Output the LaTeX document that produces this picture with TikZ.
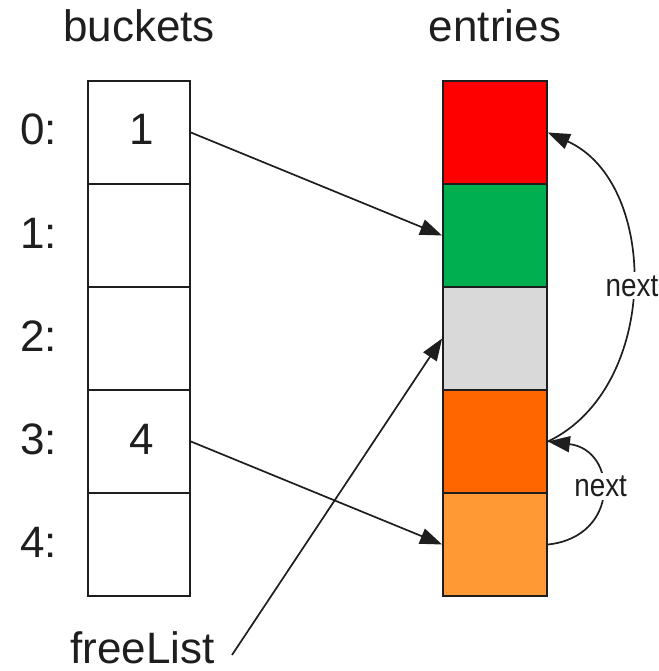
\documentclass[tikz,border=0pt]{standalone}
\usepackage{fontspec}
\setmainfont{Liberation Sans}
\usepackage{graphicx}
\usetikzlibrary{arrows.meta,calc}

\definecolor{ink}{RGB}{30,30,30}
\definecolor{cellred}{RGB}{255,0,0}
\definecolor{cellgreen}{RGB}{0,176,80}
\definecolor{cellgray}{RGB}{217,217,217}
\definecolor{cellorange}{RGB}{255,102,0}
\definecolor{celllight}{RGB}{255,153,51}

\begin{document}
\begin{tikzpicture}[x=1pt,y=-1pt,
  bcell/.style={draw=ink, line width=1.8pt, minimum width=102pt, minimum height=103pt,
                inner sep=0pt, font=\fontsize{44}{50}\selectfont, text=ink},
  ecell/.style={bcell, minimum width=104pt},
  label/.style={font=\fontsize{44}{50}\selectfont, text=ink, inner sep=0pt},
  link/.style={draw=ink, line width=1.7pt, -{Triangle[length=22pt,width=16pt]}},
  nextlbl/.style={fill=white, inner sep=3pt, font=\fontsize{32}{36}\selectfont, text=ink}]

  \useasboundingbox (0,0) rectangle (658,671);

  % column headings
  \node[label, anchor=base] (hbuckets) at (139,42) {buckets};
  \node[label, anchor=base] (hentries) at (495,42) {entries};

  % bucket array
  \node[bcell] (b0) at (139,132.5) {};
  \node[bcell] (b1) at (139,235.5) {};
  \node[bcell] (b2) at (139,338.5) {};
  \node[bcell] (b3) at (139,441.5) {};
  \node[bcell] (b4) at (139,544.5) {};

  % stored entry indices
  \node[label, anchor=base] (v0) at (142,145) {1};
  \node[label, anchor=base] (v3) at (142,454) {4};

  % row indices
  \foreach \i in {0,...,4}
    \node[label, anchor=base] (idx\i) at (38.5,145+103*\i) {\i:};

  % entry array
  \node[ecell, fill=cellred]    (e0) at (495,132.5) {};
  \node[ecell, fill=cellgreen]  (e1) at (495,235.5) {};
  \node[ecell, fill=cellgray]   (e2) at (495,338.5) {};
  \node[ecell, fill=cellorange] (e3) at (495,441.5) {};
  \node[ecell, fill=celllight]  (e4) at (495,544.5) {};

  % free list head
  \node[label, anchor=base] (free) at (142.5,663) {freeList};
  \coordinate (fstart) at (232,655);

  % bucket -> entry links
  \draw[link] (b0.east) -- (e1.west);
  \draw[link] (b3.east) -- (e4.west);
  \draw[link] (fstart) -- (e2.west);

  % chain links between entries
  \draw[link] (e3.east) .. controls (660,388) and (660,183) ..
     node[nextlbl, pos=0.5] {\scalebox{0.87}[1]{next}} (e0.east);
  \draw[link] (e4.east) .. controls (620,537) and (618,450) ..
     node[nextlbl, pos=0.55] {\scalebox{0.87}[1]{next}} (e3.east);
\end{tikzpicture}
\end{document}
